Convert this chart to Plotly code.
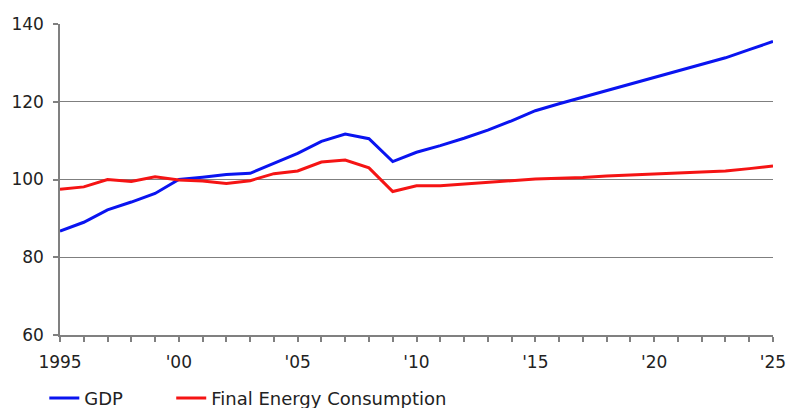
import plotly.graph_objects as go

years = list(range(1995, 2026))
gdp = [86.7, 89.0, 92.2, 94.2, 96.4, 100.0, 100.6, 101.3, 101.6, 104.1, 106.7,
       109.8, 111.7, 110.5, 104.6, 107.0, 108.7, 110.6, 112.7, 115.1, 117.7,
       119.5, 121.2, 122.9, 124.6, 126.3, 128.0, 129.6, 131.3, 133.4, 135.5]
energy = [97.5, 98.1, 100.0, 99.5, 100.7, 99.9, 99.6, 99.0, 99.7, 101.5, 102.2,
          104.5, 105.0, 103.0, 96.9, 98.4, 98.4, 98.8, 99.3, 99.6, 100.1,
          100.3, 100.5, 100.9, 101.2, 101.5, 101.7, 101.9, 102.2, 102.8, 103.5]
tick_vals = years
tick_text = ["1995" if y == 1995 else ("'%02d" % (y % 100) if y % 5 == 0 else "") for y in years]

fig = go.Figure()
fig.add_trace(go.Scatter(x=years, y=gdp, mode="lines", name="GDP",
                         line=dict(color="#0a14f0", width=3), legend="legend"))
fig.add_trace(go.Scatter(x=years, y=energy, mode="lines", name="Final Energy Consumption",
                         line=dict(color="#f51414", width=3), legend="legend2"))

leg_common = dict(orientation="h", xanchor="left", y=-0.144, yanchor="top",
                  font=dict(size=18, color="#222222"), bgcolor="rgba(0,0,0,0)", itemwidth=30)

fig.update_layout(
    width=788, height=408,
    margin=dict(l=60, r=15, t=24, b=73, autoexpand=False),
    paper_bgcolor="white", plot_bgcolor="white",
    font=dict(family="DejaVu Sans", size=17, color="#222222"),
    showlegend=True,
    legend=dict(x=-0.022, **leg_common),
    legend2=dict(x=0.156, **leg_common),
    xaxis=dict(range=[1995, 2025], tickmode="array", tickvals=tick_vals, ticktext=tick_text,
               showgrid=False, zeroline=False, showline=True, linecolor="#808080", linewidth=1.5,
               ticks="outside", ticklen=5, tickcolor="#808080", tickwidth=1.5,
               ticklabelstandoff=6),
    yaxis=dict(range=[60, 140], tickvals=[60, 80, 100, 120, 140],
               showgrid=True, gridcolor="#7f7f7f", gridwidth=1.2, zeroline=False,
               showline=True, linecolor="#808080", linewidth=1.5,
               ticks="outside", ticklen=5, tickcolor="#808080", tickwidth=1.5,
               ticklabelstandoff=6),
)

fig.write_html("out.html", config={"displayModeBar": False},
               post_script="document.body.style.margin='0';document.body.style.overflow='hidden';")
